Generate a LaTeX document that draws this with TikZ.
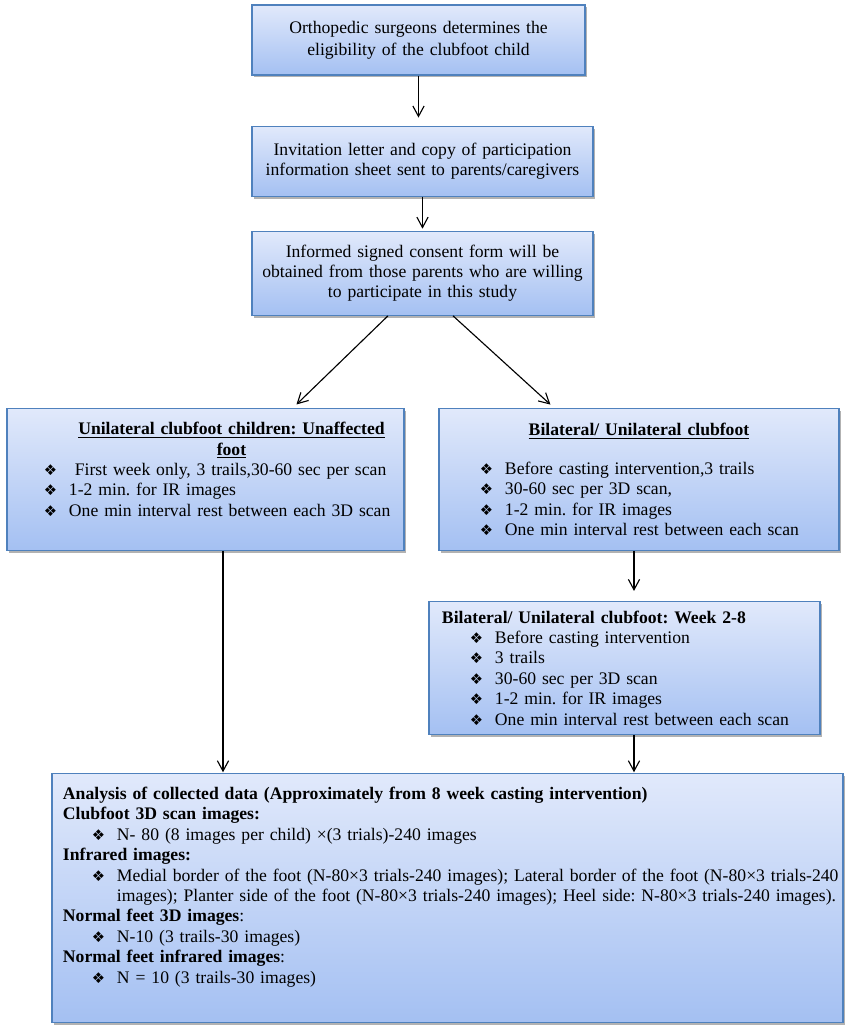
\documentclass[tikz,border=0pt]{standalone}
\usepackage{fontspec}
\setmainfont{Liberation Serif}
\newfontfamily\bulletfont{DejaVu Sans}
\usetikzlibrary{positioning,shadows,arrows.meta}
\setlength{\parindent}{0pt}
\frenchspacing

\definecolor{boxtop}{RGB}{225,233,251}
\definecolor{boxbottom}{RGB}{164,192,242}
\definecolor{boxline}{RGB}{79,129,189}

% bullet line and bold heading inside the boxes
\newcommand{\itm}[2][1cm]{\hspace*{#1}\makebox[0.625cm][l]{\bulletfont\fontsize{10.5pt}{10.5pt}\selectfont ❖}\mbox{#2}}
\newcommand{\hd}[1]{\hspace*{0.275cm}\textbf{#1}}

\begin{document}
\begin{tikzpicture}[node distance=1.25cm,>={Straight Barb[length=2.6mm,width=2.8mm]}]
  \useasboundingbox (-10.4625,1.0) rectangle (10.8125,-24.675);
  \tikzset{
    process/.style={rectangle,draw=boxline,line width=0.8pt,top color=boxtop,bottom color=boxbottom,
      drop shadow={shadow xshift=0.5mm,shadow yshift=-0.6mm,fill=black,opacity=0.3},
      inner sep=0pt,font=\fontsize{12.55pt}{14.5pt}\selectfont},
    centred/.style={align=center},
    listed/.style={align=left},
    % edge styles
    flow/.style={->,line width=0.8pt}
  }

  %% Recruitment
  \node [process, centred, text width=8.325cm, minimum height=1.75cm, font=\fontsize{12.55pt}{15.6pt}\selectfont] (elig)
  {Orthopedic surgeons determines the\\eligibility of the clubfoot child};

  \node [process, centred, text width=8.525cm, minimum height=1.75cm, below=1.25cm of elig, xshift=0.1cm] (invite)
  {Invitation letter and copy of participation\\information sheet sent to parents/caregivers};

  \node [process, centred, text width=8.525cm, minimum height=2.1cm, below=0.85cm of invite] (consent)
  {Informed signed consent form will be\\obtained from those parents who are willing\\to participate in this study};

  \draw [flow, shorten >=0.2cm] (elig.south) -- (elig.south |- invite.north);
  \draw [flow, shorten >=0.05cm] (invite.south) -- (invite.south |- consent.north);

  %% Week 1
  \node [process, listed, text width=9.925cm, minimum height=3.55cm, below=2.3cm of consent, xshift=-5.425cm] (unaff)
  {\makebox[\hsize]{\hspace{1.3cm}\bfseries\underline{Unilateral clubfoot children: Unaffected}}\\
   \makebox[\hsize]{\hspace{1.3cm}\bfseries\underline{foot}}\\
   \itm[0.925cm]{\ First week only, 3 trails,30-60 sec per scan}\\
   \itm[0.925cm]{1-2 min. for IR images}\\
   \itm[0.925cm]{One min interval rest between each 3D scan}\\
   \mbox{}};

  \node [process, listed, text width=10cm, minimum height=3.55cm, below=2.3cm of consent, xshift=5.4125cm] (bilat)
  {\makebox[\hsize]{\bfseries\underline{Bilateral/ Unilateral clubfoot}}\\[13pt]
   \itm[1.025cm]{Before casting intervention,3 trails}\\
   \itm[1.025cm]{30-60 sec per 3D scan,}\\
   \itm[1.025cm]{1-2 min. for IR images}\\
   \itm[1.025cm]{One min interval rest between each scan}};

  \draw [flow, shorten >=0.12cm] ([xshift=-0.8625cm]consent.south) -- ([xshift=2.1875cm]unaff.north);
  \draw [flow, shorten >=0.12cm] ([xshift=0.7625cm]consent.south) -- ([xshift=-2.125cm]bilat.north);

  %% Weeks 2-8
  \node [process, listed, text width=9.775cm, minimum height=3.325cm, below=1.25cm of bilat, xshift=-0.3625cm] (weekly)
  {\hspace*{0.325cm}\textbf{Bilateral/ Unilateral clubfoot: Week 2-8}\\
   \itm[1.025cm]{Before casting intervention}\\
   \itm[1.025cm]{3 trails}\\
   \itm[1.025cm]{30-60 sec per 3D scan}\\
   \itm[1.025cm]{1-2 min. for IR images}\\
   \itm[1.025cm]{One min interval rest between each scan}};

  \draw [flow, shorten >=0.25cm] ([xshift=-0.125cm]bilat.south) -- ([xshift=-0.125cm]bilat.south |- weekly.north);

  %% Analysis
  \node [process, listed, text width=19.775cm, minimum height=6.225cm, below=0.95cm of weekly, xshift=-4.425cm] (analysis)
  {\hd{Analysis of collected data (Approximately from 8 week casting intervention)}\\
   \hd{Clubfoot 3D scan images:}\\
   \itm{N- 80 (8 images per child) ×(3 trials)-240 images}\\
   \hd{Infrared images:}\\
   \itm{Medial border of the foot (N-80×3 trials-240 images); Lateral border of the foot (N-80×3 trials-240}\\
   \hspace*{1.625cm}\mbox{images); Planter side of the foot (N-80×3 trials-240 images); Heel side: N-80×3 trials-240 images).}\\
   \hd{Normal feet 3D images}:\\
   \itm{N-10 (3 trails-30 images)}\\
   \hd{Normal feet infrared images}:\\
   \itm{N = 10 (3 trails-30 images)}\\[4pt]
   \mbox{}};

  \draw [flow, shorten >=0.02cm] ([xshift=0.2375cm]weekly.south) -- ([xshift=0.2375cm]weekly.south |- analysis.north);
  \draw [flow, shorten >=0.02cm] ([xshift=0.4375cm]unaff.south) -- ([xshift=0.4375cm]unaff.south |- analysis.north);

\end{tikzpicture}
\end{document}
